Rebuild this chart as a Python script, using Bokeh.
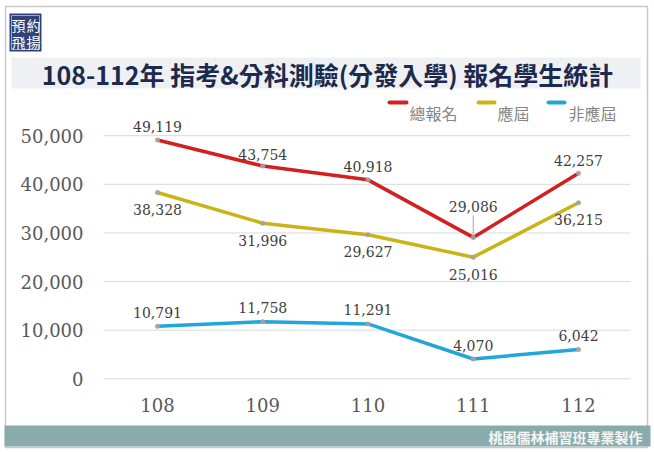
from bokeh.plotting import figure
from bokeh.models import ColumnDataSource, Range1d, LabelSet
from bokeh.core.properties import value
from bokeh.embed import file_html
from bokeh.resources import INLINE

# ---------------- data ----------------
years = ["108", "109", "110", "111", "112"]
total = [49119, 43754, 40918, 29086, 42257]        # 總報名
current = [38328, 31996, 29627, 25016, 36215]      # 應屆
noncurrent = [10791, 11758, 11291, 4070, 6042]     # 非應屆
y_ticks = [0, 10000, 20000, 30000, 40000, 50000]
series_names = ["總報名", "應屆", "非應屆"]
title_text = "108-112年 指考&分科測驗(分發入學) 報名學生統計"
footer_text = "桃園儒林補習班專業製作"
logo_chars = ["預", "約", "飛", "揚"]

# ---------------- layout (canvas pixels) ----------------
W, H = 654, 452
PLOT_L, PLOT_R = 103, 630          # gridline extent
Y0_PX, Y50_PX = 378.3, 135.2       # pixel rows of 0 and 50,000
X0_PX, DX_PX = 157, 105.25         # pixel column of first category, spacing

k = (Y0_PX - Y50_PX) / 50000.0     # px per unit
y_end = Y0_PX / k
y_start = y_end - H / k
x_start = -X0_PX / DX_PX
x_end = (W - X0_PX) / DX_PX

RED, YEL, BLU = "#d21f1f", "#c9b415", "#21a6d9"
SERIF = value("DejaVu Serif")
CJK = value("Noto Sans CJK TC")

p = figure(width=W, height=H, output_backend="svg", toolbar_location=None,
           x_range=Range1d(x_start, x_end), y_range=Range1d(y_start, y_end),
           x_axis_location=None, y_axis_location=None,
           min_border=0, min_border_left=0, min_border_right=0,
           min_border_top=0, min_border_bottom=0)
p.title.visible = False
p.outline_line_color = None
p.xgrid.visible = False
p.ygrid.visible = False
p.background_fill_color = "white"
p.border_fill_color = "white"
p.extra_x_ranges = {"px": Range1d(0, W)}
p.extra_y_ranges = {"py": Range1d(H, 0)}

idx = list(range(len(years)))

# ---- card decorations ----
p.quad(left=[5], right=[647], top=[6], bottom=[447], fill_color="white",
       line_color="#c8c8c8", line_width=1.5, x_range_name="px", y_range_name="py")
p.quad(left=[11], right=[640], top=[57], bottom=[88], fill_color="#eef0f3",
       line_color=None, x_range_name="px", y_range_name="py")
p.text(x=[327], y=[73], text=[title_text], text_font=CJK, text_font_size="25px",
       text_font_style="bold", text_color="#1c2a4d", text_align="center",
       text_baseline="middle", x_range_name="px", y_range_name="py")

# logo
p.quad(left=[9], right=[41], top=[13], bottom=[51], fill_color="#2f4279",
       line_color=None, x_range_name="px", y_range_name="py")
p.quad(left=[11], right=[39], top=[15], bottom=[49], fill_color=None,
       line_color="#9aa6c8", line_width=1, x_range_name="px", y_range_name="py")
p.text(x=[18, 33, 18, 33], y=[24.5, 24.5, 41.5, 41.5], text=logo_chars,
       text_font=CJK, text_font_size="14px", text_color="white",
       text_align="center", text_baseline="middle",
       x_range_name="px", y_range_name="py")

# footer
p.quad(left=[4], right=[650], top=[425], bottom=[446], fill_color="#8aabab",
       line_color=None, x_range_name="px", y_range_name="py")
p.text(x=[642], y=[436], text=[footer_text], text_font=CJK, text_font_size="14px",
       text_font_style="bold", text_color="#f4f6f6", text_align="right",
       text_baseline="middle", x_range_name="px", y_range_name="py")

# legend
p.segment(x0=[389, 478, 548], x1=[406, 494, 564], y0=[102] * 3, y1=[102] * 3,
          line_color=[RED, YEL, BLU], line_width=4, line_cap="round",
          x_range_name="px", y_range_name="py")
p.text(x=[409, 497, 568], y=[112] * 3, text=series_names, text_font=CJK,
       text_font_size="16px", text_color="#868686", text_align="left",
       text_baseline="middle", x_range_name="px", y_range_name="py")

# ---- grid and axis labels ----
p.segment(x0=[PLOT_L] * len(y_ticks), x1=[PLOT_R] * len(y_ticks),
          y0=y_ticks, y1=y_ticks, line_color="#d9d9d9", line_width=1,
          x_range_name="px")
p.text(x=[83] * len(y_ticks), y=y_ticks, text=[f"{t:,}" for t in y_ticks],
       text_font=SERIF, text_font_size="18px", text_color="#595959",
       text_align="right", text_baseline="middle", x_range_name="px")
p.text(x=idx, y=[404] * len(years), text=years, text_font=SERIF,
       text_font_size="18px", text_color="#595959", text_align="center",
       text_baseline="middle", y_range_name="py")

# ---- series ----
src = ColumnDataSource(dict(
    x=idx, total=total, current=current, noncurrent=noncurrent,
    t_total=[f"{v:,}" for v in total],
    t_current=[f"{v:,}" for v in current],
    t_noncurrent=[f"{v:,}" for v in noncurrent],
    dy_total=[13, 12, 13, 31, 13],
))
for col, c in (("total", RED), ("current", YEL), ("noncurrent", BLU)):
    p.line("x", col, source=src, line_color=c, line_width=3.5)
    p.scatter("x", col, source=src, size=5, fill_color="#a8a0a0",
              line_color=None, alpha=0.9)

# leader line for the 111 total label
p.segment(x0=[3], y0=[total[3] + 2 / k], x1=[3], y1=[total[3] + 22 / k],
          line_color="#a6a6a6", line_width=1)

common = dict(source=src, text_align="center", text_baseline="middle",
              text_font=SERIF, text_font_size="14px", text_color="#404040")
p.add_layout(LabelSet(x="x", y="total", text="t_total", y_offset="dy_total", **common))
p.add_layout(LabelSet(x="x", y="current", text="t_current", y_offset=-17, **common))
p.add_layout(LabelSet(x="x", y="noncurrent", text="t_noncurrent", y_offset=14, **common))

open("out.html", "w").write(file_html(p, INLINE))
